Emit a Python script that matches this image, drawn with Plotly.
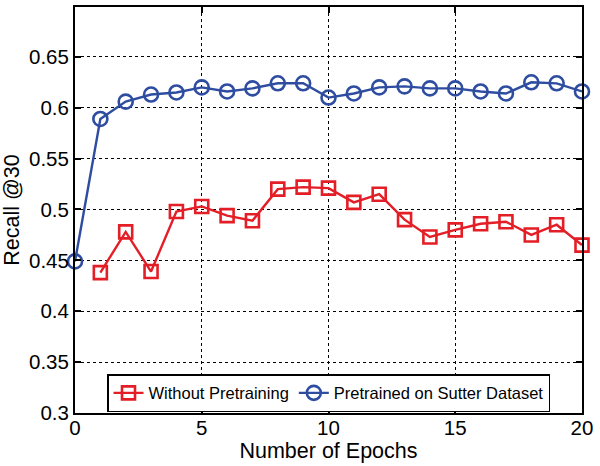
import plotly.graph_objects as go

epochs_blue = list(range(0, 21))
recall_pretrained = [0.449, 0.589, 0.606, 0.613, 0.615, 0.620, 0.616, 0.619, 0.624, 0.624,
                     0.610, 0.614, 0.620, 0.621, 0.619, 0.619, 0.616, 0.614, 0.625, 0.624, 0.616]
epochs_red = list(range(1, 21))
recall_without = [0.438, 0.478, 0.439, 0.498, 0.503, 0.494, 0.489, 0.520, 0.522,
                  0.521, 0.507, 0.515, 0.490, 0.473, 0.480, 0.486, 0.488, 0.475, 0.485, 0.465]
y_ticks = [0.3, 0.35, 0.4, 0.45, 0.5, 0.55, 0.6, 0.65]
y_ticklabels = ["0.3", "0.35", "0.4", "0.45", "0.5", "0.55", "0.6", "0.65"]
x_ticks = [0, 5, 10, 15, 20]

RED = "#E41E26"
BLUE = "#2E4DA0"
FONT = "Liberation Sans, Arial, Helvetica, sans-serif"

fig = go.Figure()
fig.add_trace(go.Scatter(
    x=epochs_red, y=recall_without, mode="lines+markers",
    name="Without Pretraining",
    line=dict(color=RED, width=2.4),
    marker=dict(symbol="square-open", size=13, color=RED, line=dict(width=2.6, color=RED)),
    cliponaxis=False,
))
fig.add_trace(go.Scatter(
    x=epochs_blue, y=recall_pretrained, mode="lines+markers",
    name="Pretrained on Sutter Dataset",
    line=dict(color=BLUE, width=2.4),
    marker=dict(symbol="circle-open", size=14, color=BLUE, line=dict(width=2.6, color=BLUE)),
    cliponaxis=False,
))

axis_common = dict(
    showline=True, linecolor="black", linewidth=2, mirror="allticks",
    ticks="inside", ticklen=6, tickwidth=1.5, tickcolor="black",
    showgrid=True, gridcolor="black", gridwidth=1, griddash="dot",
    zeroline=False,
    tickfont=dict(family=FONT, size=20.5, color="black"),
)

fig.update_xaxes(
    range=[0, 20], tickvals=x_ticks, ticklabelstandoff=-5,
    title=dict(text="Number of Epochs", font=dict(family=FONT, size=21.5, color="black"), standoff=0),
    **axis_common,
)
fig.update_yaxes(
    range=[0.3, 0.699], tickvals=y_ticks, ticktext=y_ticklabels,
    title=dict(text="Recall @30", font=dict(family=FONT, size=21.5, color="black"), standoff=4),
    **axis_common,
)

fig.update_layout(
    width=600, height=466,
    margin=dict(l=75, r=18, t=7, b=53, autoexpand=False),
    paper_bgcolor="white", plot_bgcolor="white",
    font=dict(family=FONT, color="black"),
    legend=dict(
        orientation="h", x=0.5, xanchor="center", y=0.049, yanchor="middle",
        bgcolor="white", bordercolor="black", borderwidth=1.5,
        font=dict(family=FONT, size=16.5, color="black"),
        itemwidth=30, tracegroupgap=0,
    ),
    showlegend=True,
)

fig.write_html("out.html", config={"displayModeBar": False},
               post_script="document.body.style.margin='0';document.body.style.padding='0';")
